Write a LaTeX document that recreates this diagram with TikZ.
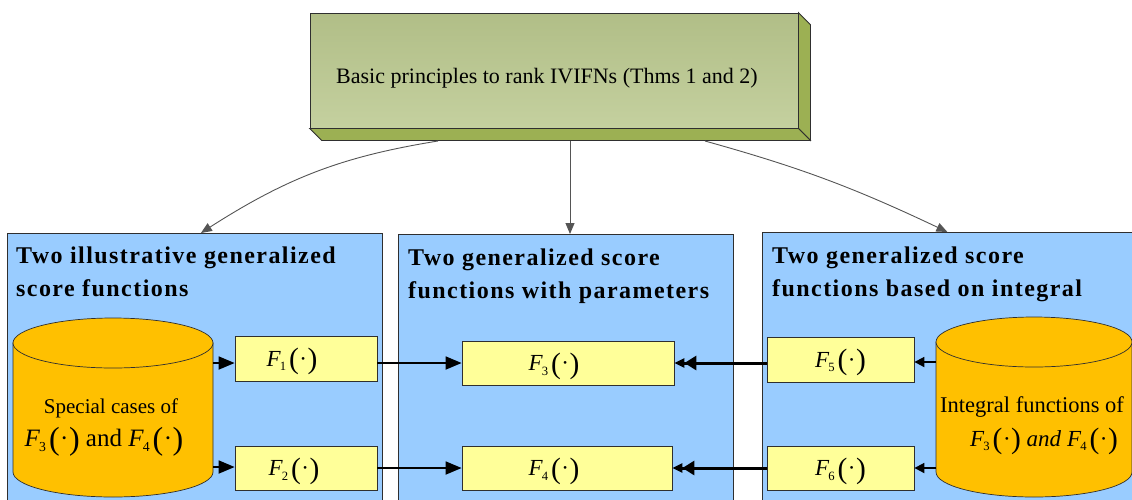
\documentclass[tikz,border=0pt]{standalone}
\usepackage{fontspec}
\setmainfont{Liberation Serif}
\usetikzlibrary{arrows.meta,calc,bending}
\definecolor{frontgreen}{HTML}{BAC88E}
\definecolor{sidegreen}{HTML}{9CB053}
\definecolor{panelblue}{HTML}{99CCFF}
\definecolor{boxyellow}{HTML}{FFFF99}
\definecolor{cylorange}{HTML}{FFC000}
\definecolor{edgegray}{HTML}{2F2F2F}
\definecolor{arrgray}{HTML}{555555}
\newcommand\Fn[1]{\textit{F}\kern-1pt\raisebox{-0.45ex}{\fontsize{0.55em}{0.55em}\selectfont #1}\kern3pt\raisebox{-0.12em}{\fontsize{1.28em}{1em}\selectfont(}\kern0.5pt·\kern0.5pt\raisebox{-0.12em}{\fontsize{1.28em}{1em}\selectfont)}}
\tikzset{
  panel/.style={draw=edgegray, line width=0.8pt, fill=panelblue, anchor=north west, inner sep=0pt},
  fbox/.style={draw=edgegray, line width=0.8pt, fill=boxyellow, minimum height=44pt, inner sep=0pt, text height=16pt, text depth=1pt, font=\fontsize{23}{23}\selectfont},
  title/.style={anchor=base west, align=left, font=\bfseries\fontsize{24}{33}\selectfont\addfontfeatures{LetterSpace=6}, inner sep=0pt},
  cyl/.style={draw=edgegray, line width=0.7pt, fill=cylorange},
  cyltext/.style={anchor=base, inner sep=0pt},
  conn/.style={draw=black, line width=1.8pt, -{Triangle[length=16pt,width=13pt]}},
  thick conn/.style={draw=black, line width=3pt, -{Triangle[length=12pt,width=14pt]Triangle[length=10pt,width=9pt]}},
  small conn/.style={draw=black, line width=1.8pt, -{Triangle[length=10pt,width=10pt]}},
  toparrow/.style={draw=arrgray, line width=0.9pt, -{Triangle[length=11pt,width=9pt]}},
}
\begin{document}
\begin{tikzpicture}[x=1pt,y=-1pt]
\useasboundingbox (0,0) rectangle (1132,499);
\begin{scope}
\clip (0,0) rectangle (1132,499);
% panels
\node[panel, minimum width=375pt, minimum height=290pt] (pL) at (7,233) {};
\node[panel, minimum width=335pt, minimum height=290pt] (pM) at (398,234) {};
\node[panel, minimum width=380pt, minimum height=290pt] (pR) at (762,232) {};
% titles
\node[title] (tL) at (16,296) {Two illustrative generalized\\score functions};
\node[title] (tM) at (408,298) {Two generalized score\\functions with parameters};
\node[title] (tR) at (772,296) {Two generalized score\\functions based on integral};
% left cylinder
\path[cyl] (13,343) -- (13,472) arc[start angle=180, end angle=360, x radius=100pt, y radius=25pt] -- (213,343) -- cycle;
\path[cyl] (113,343) ellipse[x radius=100pt, y radius=25pt];
% right cylinder
\path[cyl] (936,342) -- (936,472) arc[start angle=180, end angle=360, x radius=98pt, y radius=25pt] -- (1132,342) -- cycle;
\path[cyl] (1034,342) ellipse[x radius=98pt, y radius=25pt];
\end{scope}
% cylinder texts
\node[cyltext, font=\fontsize{21}{21}\selectfont] (cLt1) at (111,413) {Special cases of};
\node[cyltext, font=\fontsize{25}{25}\selectfont] (cLt2) at (104,446) {\Fn3 and \Fn4};
\node[cyltext, font=\fontsize{22.5}{22.5}\selectfont] (cRt1) at (1032,412) {Integral functions of};
\node[cyltext, font=\fontsize{23}{23}\selectfont] (cRt2) at (1044,446) {\Fn3 \textit{and} \Fn4};
\coordinate (cLa) at (213,363);
\coordinate (cLb) at (213,467);
\coordinate (cRa) at (936,362);
\coordinate (cRb) at (936,468);
% F boxes
\node[fbox, minimum width=142pt, minimum height=45pt] (F1) at (306,358.5) {\Fn1\hspace*{28pt}};
\node[fbox, minimum width=142pt] (F2) at (306,468) {\Fn2\hspace*{24pt}};
\node[fbox, minimum width=212pt] (F3) at (568,363) {\Fn3\hspace*{28pt}};
\node[fbox, minimum width=210pt] (F4) at (567,468) {\Fn4\hspace*{26pt}};
\node[fbox, minimum width=147pt, minimum height=45pt] (F5) at (840.5,359.5) {\Fn5};
\node[fbox, minimum width=147pt] (F6) at (840.5,468) {\Fn6};
% top box (3D)
\node[draw=edgegray, line width=0.8pt, top color=frontgreen!95!black, bottom color=frontgreen!85!white, minimum width=488pt, minimum height=115pt, inner sep=0pt] (top) at (554,70.5) {};
\node[anchor=base, inner sep=0pt, font=\fontsize{22}{22}\selectfont] (toptext) at (547,83) {Basic principles to rank IVIFNs (Thms 1 and 2)};
\path[draw=edgegray, line width=0.8pt, fill=sidegreen] (top.north east) -- ++(12,12) -- ($(top.south east)+(12,12)$) -- (top.south east) -- cycle;
\path[draw=edgegray, line width=0.8pt, fill=sidegreen] (top.south west) -- (top.south east) -- ++(12,12) -- ($(top.south west)+(12,12)$) -- cycle;
\coordinate (s1) at (438,141);
\coordinate (s2) at (570,141);
\coordinate (s3) at (705,141);
% top connectors
\draw[toparrow] (s1) to[bend right=12] ($(pL.north)+(6,0)$);
\draw[toparrow] (s2) -- (s2 |- pM.north);
\draw[toparrow] (s3) to[bend left=5] ($(pR.north)+(-5,0)$);
% connectors
\draw[conn] (cLa) -- (cLa -| F1.west);
\draw[conn] (cLb) -- (cLb -| F2.west);
\draw[conn] (F1.east |- F3) -- (F3.west);
\draw[conn] (F2.east |- F4) -- (F4.west);
\draw[thick conn] (F5.west |- F3) -- (F3.east);
\draw[thick conn] (F6.west |- F4) -- (F4.east);
\draw[small conn] (cRa) -- (cRa -| F5.east);
\draw[small conn] (cRb) -- (cRb -| F6.east);
\end{tikzpicture}
\end{document}
